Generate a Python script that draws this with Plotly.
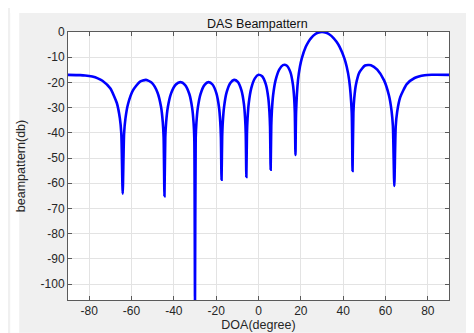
import plotly.graph_objects as go

# Direction of arrival (degrees) and beampattern level (dB)
doa = [
    -90.00, -84.27, -81.89, -78.52, -75.93, -73.74, -70.05, -66.93, -65.51, -64.82, -64.16,
    -63.50, -62.87, -61.64, -59.32, -56.10, -53.13, -50.35, -47.73, -46.05, -45.23, -44.83, -44.43,
    -44.03, -43.63, -42.84, -41.30, -39.05, -36.87, -34.75, -32.68, -31.33, -30.66, -30.33, -30.00,
    -29.67, -29.34, -28.69, -27.39, -25.47, -23.58, -21.72, -19.88, -18.66, -18.06, -17.76, -17.46,
    -17.16, -16.86, -16.26, -15.07, -13.30, -11.54, -9.79, -8.05, -6.89, -6.32, -6.03, -5.74,
    -5.45, -5.16, -4.59, -3.44, -1.72, 0.00, 1.72, 3.44, 4.59, 5.16, 5.45, 5.74,
    6.03, 6.32, 6.89, 8.05, 9.79, 11.54, 13.30, 15.07, 16.26, 16.86, 17.16, 17.46,
    17.76, 18.66, 19.57, 20.49, 22.33, 23.58, 24.83, 26.74, 28.04, 30.00,
    32.01, 33.37, 35.45, 36.87, 38.32, 40.54, 41.68, 42.84, 44.03, 44.43,
    44.83, 45.23, 46.05, 47.73, 50.35, 53.13, 56.10, 59.32, 61.64, 62.87, 63.50, 64.16,
    64.82, 65.51, 66.93, 70.05, 73.74, 78.52, 81.89, 84.27, 90.00,
]
beampattern_db = [
    -16.99, -17.10, -17.23, -17.69, -18.38, -19.34, -22.35, -28.16, -34.17, -40.2, -64.1,
    -40.3, -34.37, -28.55, -23.15, -19.78, -19.00, -20.20, -23.98, -29.67, -35.63, -41.65, -65.1,
    -41.7, -35.72, -29.85, -24.34, -20.82, -19.89, -20.95, -24.60, -30.20, -36.1, -42.1, -106.3,
    -42.1, -36.1, -30.20, -24.60, -20.95, -19.89, -20.82, -24.34, -29.85, -35.72, -41.7, -58.6,
    -41.65, -35.63, -29.67, -23.98, -20.20, -19.00, -19.78, -23.15, -28.55, -34.37, -40.3, -57.5,
    -40.2, -34.17, -28.16, -22.35, -18.38, -16.99, -17.56, -20.70, -25.95, -31.68, -37.6, -54.6,
    -37.4, -31.31, -25.20, -19.20, -14.90, -13.14, -13.29, -15.93, -20.80, -26.32, -32.1, -48.8,
    -31.69, -19.11, -13.81, -10.37, -5.89, -3.89, -2.39, -0.90, -0.32, 0.00,
    -0.32, -0.90, -2.39, -3.89, -5.89, -10.37, -13.81, -19.11, -31.69, -55.1,
    -32.1, -26.32, -20.80, -15.93, -13.29, -13.14, -14.90, -19.20, -25.20, -31.31, -37.4, -61.1,
    -37.6, -31.68, -25.95, -20.70, -18.25, -17.14, -16.96, -16.97, -16.99,
]

x_ticks = [-80, -60, -40, -20, 0, 20, 40, 60, 80]
y_ticks = [0, -10, -20, -30, -40, -50, -60, -70, -80, -90, -100]

FONT = "Liberation Sans, Arial, Helvetica, sans-serif"
TXT = "#262626"
AXC = "#5a5a5a"

fig = go.Figure()
fig.add_trace(go.Scatter(
    x=doa, y=beampattern_db, mode="lines",
    line=dict(color="#0000ff", width=2.6, shape="spline", smoothing=0.6),
    showlegend=False, hoverinfo="skip",
))

W, H = 474, 333
L, R, T, B = 58, 33.4, 24.3, 36.3
pw, ph = W - L - R, H - T - B

def px_x(px):
    return (px - L) / pw

def px_y(py):
    return (H - B - py) / ph

shapes = [
    # white strips around the grey figure background
    dict(type="rect", xref="paper", yref="paper", x0=px_x(0), x1=px_x(9), y0=px_y(H), y1=px_y(0),
         fillcolor="white", line=dict(width=0), layer="below"),
    dict(type="rect", xref="paper", yref="paper", x0=px_x(0), x1=px_x(W), y0=px_y(5), y1=px_y(0),
         fillcolor="white", line=dict(width=0), layer="below"),
    dict(type="rect", xref="paper", yref="paper", x0=px_x(0), x1=px_x(W), y0=px_y(H), y1=px_y(330),
         fillcolor="#f7f9fb", line=dict(width=0), layer="below"),
]

fig.update_layout(
    width=W, height=H,
    margin=dict(l=L, r=R, t=T, b=B, pad=0),
    paper_bgcolor="#f0f0f0",
    plot_bgcolor="white",
    font=dict(family=FONT, size=12, color=TXT),
    title=dict(text="DAS Beampattern", x=249.3 / W, xanchor="center",
               y=1 - 15.5 / H, yanchor="middle", yref="container",
               font=dict(family=FONT, size=12.5, color="#111111")),
    shapes=shapes,
    xaxis=dict(
        range=[-90, 90], tickvals=x_ticks, ticktext=[str(v) for v in x_ticks],
        ticks="inside", ticklen=4, tickcolor=AXC, showline=True, linecolor=AXC, linewidth=1,
        mirror="ticks", showgrid=True, gridcolor="#e3e3e3", gridwidth=1, zeroline=False,
        tickfont=dict(family=FONT, size=12, color=TXT),
        title=dict(text="DOA(degree)", standoff=2, font=dict(family=FONT, size=12.5, color=TXT)),
    ),
    yaxis=dict(
        range=[-106.3, 0], tickvals=y_ticks, ticktext=[str(v) for v in y_ticks],
        ticks="inside", ticklen=4, tickcolor=AXC, showline=True, linecolor=AXC, linewidth=1,
        mirror="ticks", showgrid=True, gridcolor="#e3e3e3", gridwidth=1, zeroline=False,
        tickfont=dict(family=FONT, size=12, color=TXT),
        title=dict(text="beampattern(db)", standoff=12, font=dict(family=FONT, size=12.5, color=TXT)),
    ),
)

fig.write_html("out.html")
